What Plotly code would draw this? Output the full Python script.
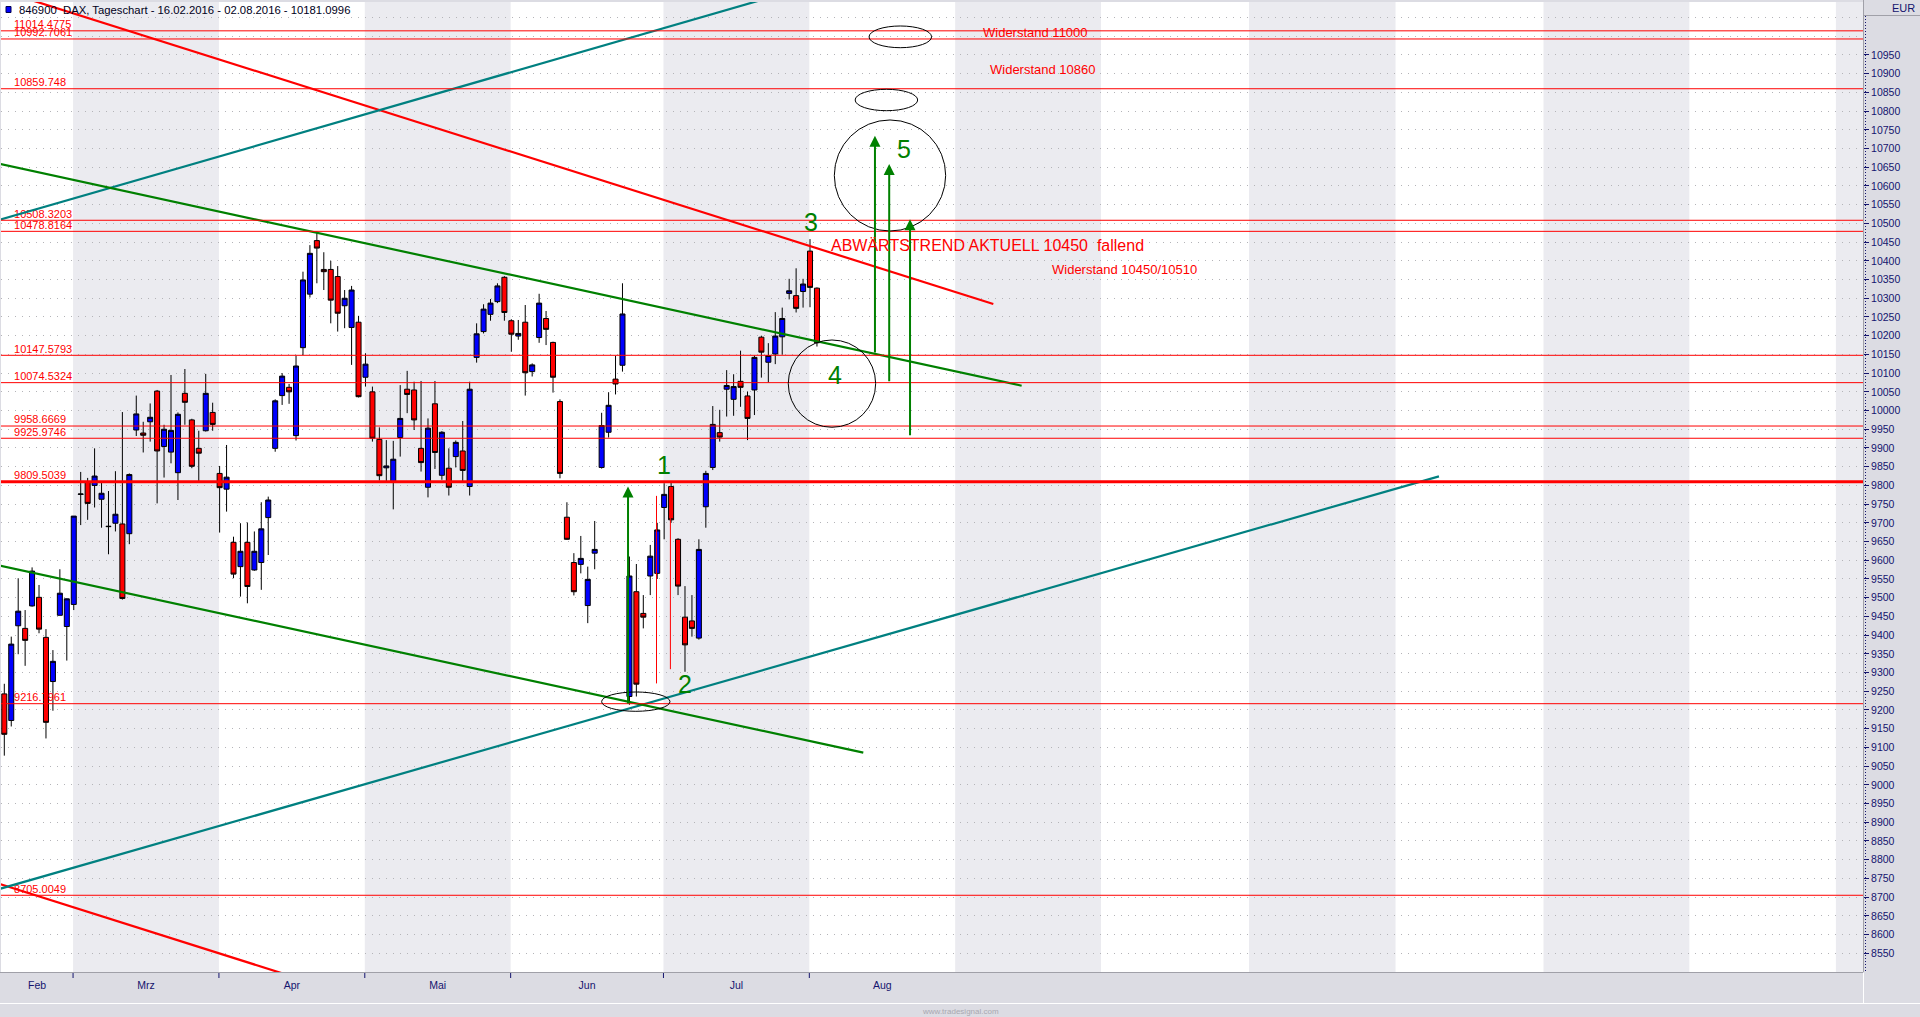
import plotly.graph_objects as go

# ------------------------------------------------------------------ data
opens = [9243, 9172, 9425, 9418, 9478, 9501, 9394, 9276, 9453, 9423,
         9482, 9776, 9808, 9800, 9763, 9691, 9699, 9697, 9671, 9948,
         9940, 9970, 10052, 9904, 9889, 9834, 10046, 9975, 9899, 9946,
         9995, 9832, 9790, 9648, 9583, 9648, 9574, 9594, 9714, 9899,
         10040, 10062, 9933, 10168, 10311, 10454, 10377, 10377, 10358, 10280,
         10222, 10236, 10089, 10050, 9923, 9847, 9810, 9928, 10057, 10055,
         9899, 9795, 10018, 9827, 9846, 9877, 9892, 9797, 10142, 10211,
         10257, 10291, 10356, 10240, 10199, 10236, 10104, 10195, 10246, 10182,
         10024, 9715, 9594, 9589, 9479, 9619, 9848, 9942, 10084, 10121,
         9236, 9516, 9458, 9558, 9565, 9741, 9797, 9656, 9448, 9438,
         9392, 9743, 9848, 9941, 10057, 10030, 10078, 10039, 10055, 10196,
         10129, 10151, 10197, 10313, 10307, 10318, 10426, 10327]
highs = [9270, 9396, 9552, 9467, 9581, 9534, 9416, 9360, 9576, 9498,
         9718, 9836, 9820, 9899, 9810, 9785, 9838, 9996, 9832, 10040,
         9970, 10019, 10055, 9962, 10095, 9995, 10111, 9978, 9946, 10098,
         10021, 9852, 9908, 9663, 9699, 9701, 9677, 9755, 9770, 10030,
         10100, 10071, 10147, 10371, 10442, 10478, 10423, 10400, 10386, 10322,
         10333, 10253, 10153, 10064, 9955, 9921, 9919, 10068, 10106, 10077,
         10079, 9979, 10079, 9945, 9899, 9920, 9972, 10077, 10233, 10284,
         10298, 10340, 10359, 10244, 10242, 10282, 10126, 10312, 10266, 10184,
         10030, 9755, 9619, 9665, 9583, 9705, 9994, 10049, 10146, 10340,
         9610, 9590, 9507, 9641, 9700, 9806, 9810, 9659, 9531, 9507,
         9656, 9839, 10012, 10002, 10108, 10097, 10160, 10051, 10147, 10200,
         10180, 10263, 10275, 10352, 10380, 10352, 10458, 10329]
lows = [9078, 9156, 9349, 9318, 9476, 9405, 9124, 9198, 9453, 9332,
        9467, 9694, 9708, 9741, 9687, 9616, 9677, 9495, 9643, 9932,
        9888, 9917, 9752, 9821, 9859, 9761, 9962, 9846, 9810, 9944,
        9946, 9674, 9730, 9552, 9503, 9485, 9572, 9521, 9614, 9890,
        10015, 10018, 9920, 10148, 10302, 10340, 10322, 10233, 10211, 10220,
        10122, 10035, 10064, 9917, 9813, 9810, 9736, 9877, 9993, 9948,
        9837, 9768, 9844, 9815, 9773, 9848, 9810, 9773, 10128, 10206,
        10240, 10287, 10240, 10157, 10189, 10040, 10091, 10181, 10175, 10048,
        9819, 9655, 9506, 9565, 9432, 9576, 9845, 9928, 10043, 10104,
        9214, 9236, 9418, 9507, 9550, 9656, 9700, 9507, 9302, 9396,
        9388, 9687, 9841, 9917, 9984, 9986, 10010, 9921, 9988, 10088,
        10075, 10124, 10149, 10297, 10262, 10275, 10276, 10171]
closes = [9135, 9376, 9464, 9386, 9571, 9416, 9167, 9330, 9512, 9497,
          9718, 9777, 9752, 9825, 9779, 9690, 9723, 9498, 9829, 9991,
          9934, 9982, 9892, 9950, 9947, 9990, 10022, 9851, 9886, 10046,
          9963, 9794, 9822, 9563, 9624, 9530, 9624, 9684, 9761, 10026,
          10092, 10050, 10119, 10349, 10420, 10434, 10371, 10295, 10260, 10300,
          10322, 10037, 10124, 9926, 9826, 9852, 9870, 9979, 10043, 9975,
          9861, 9953, 9888, 9942, 9795, 9915, 9840, 10057, 10205, 10271,
          10287, 10333, 10262, 10204, 10206, 10101, 10122, 10287, 10217, 10089,
          9832, 9656, 9516, 9605, 9549, 9629, 9960, 10014, 10071, 10258,
          9558, 9269, 9448, 9611, 9681, 9776, 9708, 9531, 9374, 9418,
          9629, 9832, 9963, 9929, 10067, 10064, 10062, 9979, 10142, 10156,
          10147, 10199, 10246, 10320, 10273, 10338, 10329, 10181.0996]
bars = list(range(len(opens)))

month_labels = ["Feb", "Mrz", "Apr", "Mai", "Jun", "Jul", "Aug"]
month_first_bar = [10, 31, 52, 73, 95, 116, 137, 158, 179.3, 200.4, 221.7, 242.7, 263.8]

level_values = [11014.4775, 10992.7061, 10859.748, 10508.3203, 10478.8164,
                10147.5793, 10074.5324, 9958.6669, 9925.9746, 9809.5039,
                9216.7961, 8705.0049]
strong_level = 9809.5039

y_tick_values = list(range(8550, 10951, 50))
y_extra_grid = [11000, 11050]

# drawn trend lines (anchor points: bar index, price)
red_upper_x, red_upper_y = [2.5, 142.39], [11104.7, 10284.7]
red_lower_x, red_lower_y = [-0.6, 40.0], [8734.6, 8496.6]
teal_upper_x, teal_upper_y = [-0.6, 112.0], [10509.8, 11113.1]
teal_lower_x, teal_lower_y = [-0.6, 206.55], [8722.4, 9824.2]
green_upper_x, green_upper_y = [-0.6, 146.47], [10658.6, 10066.4]
green_lower_x, green_lower_y = [-0.6, 123.67], [9585.4, 9086.1]
red_mark_x = [93.9, 95.9]
red_mark_low = [9271, 9309]
red_mark_high = [9772, 9797]

arrow_x = [89.8, 125.35, 127.4, 130.4]
arrow_from = [9213, 10151, 10074, 9930]
arrow_to = [9797, 10734, 10659, 10511]

# ellipses: x0, x1, y0, y1 (bar index / price)
ellipses = [(86.0, 95.84, 9196.5, 9248.1),
            (112.87, 125.45, 9955.3, 10188.5),
            (119.5, 135.53, 10479.7, 10776.3),
            (122.5, 131.5, 10801.1, 10858.3),
            (124.5, 133.5, 10969.4, 11027.4)]

wave_labels = ["1", "2", "3", "4", "5"]
wave_x = [95.0, 98.0, 116.1, 119.6, 129.6]
wave_y = [9854, 9270, 10504, 10096, 10700]

title_text = "846900\u00a0 DAX, Tageschart - 16.02.2016 - 02.08.2016 - 10181.0996"

# ------------------------------------------------------------------ geometry
W, H = 1920, 1017
L, R, T, B = 1, 1863, 2, 972
X_MIN, X_MAX = -0.475, 267.6
Y_MIN, Y_MAX = 8500, 11091.5


def px2x(px):
    return (px - L) / (R - L)


def py2y(py):
    return (B - py) / (B - T)


NAVY = "#14146e"
RED = "#ff0000"
GREEN = "#008000"
TEAL = "#008080"
BAND = "#ebebf0"
PANEL = "#dcdce3"
FONT = "Liberation Sans, Arial, sans-serif"

fig = go.Figure()

# level labels (behind candles)
fig.add_trace(go.Scatter(
    x=[1.4] * len(level_values), y=level_values,
    text=[repr(v) for v in level_values], mode="text",
    textposition="top right",
    textfont=dict(color=RED, size=11, family=FONT),
    hoverinfo="skip", showlegend=False))

fig.add_trace(go.Candlestick(
    x=bars, open=opens, high=highs, low=lows, close=closes,
    increasing=dict(fillcolor="#0000ff", line=dict(color="black", width=1)),
    decreasing=dict(fillcolor="#ff0000", line=dict(color="black", width=1)),
    whiskerwidth=0, showlegend=False))


def add_line(xs, ys, color, width=2.2):
    fig.add_trace(go.Scatter(x=xs, y=ys, mode="lines",
                             line=dict(color=color, width=width),
                             hoverinfo="skip", showlegend=False))


add_line(red_upper_x, red_upper_y, RED)
add_line(red_lower_x, red_lower_y, RED)
add_line(teal_upper_x, teal_upper_y, TEAL)
add_line(teal_lower_x, teal_lower_y, TEAL)
add_line(green_upper_x, green_upper_y, GREEN)
add_line(green_lower_x, green_lower_y, GREEN)
for xv, lo, hi in zip(red_mark_x, red_mark_low, red_mark_high):
    add_line([xv, xv], [lo, hi], RED, 1)

shapes = []
# month shading bands
edges = [s - 0.1 for s in month_first_bar] + [X_MAX + 1]
for k in range(0, len(edges) - 1, 2):
    shapes.append(dict(type="rect", xref="x", yref="paper", x0=edges[k], x1=edges[k + 1],
                       y0=0, y1=1, fillcolor=BAND, line=dict(width=0), layer="below"))
# horizontal levels
for v in level_values:
    shapes.append(dict(type="line", xref="paper", yref="y", x0=0, x1=1, y0=v, y1=v,
                       line=dict(color=RED, width=3 if v == strong_level else 1)))
# ellipses
for (x0, x1, y0, y1) in ellipses:
    shapes.append(dict(type="circle", xref="x", yref="y", x0=x0, x1=x1, y0=y0, y1=y1,
                       line=dict(color="black", width=1)))
# bottom month ticks
for s in month_first_bar[:6]:
    shapes.append(dict(type="line", xref="x", yref="paper", x0=s - 0.1, x1=s - 0.1,
                       y0=py2y(B + 1), y1=py2y(B + 6), line=dict(color=NAVY, width=1)))
# panel decorations
shapes.append(dict(type="line", xref="paper", yref="paper", x0=px2x(0), x1=px2x(R),
                   y0=py2y(B + 0.5), y1=py2y(B + 0.5), line=dict(color="#a0a0a8", width=1)))
shapes.append(dict(type="line", xref="paper", yref="paper", x0=px2x(R + 0.5), x1=px2x(R + 0.5),
                   y0=py2y(0), y1=py2y(B), line=dict(color="#a0a0a8", width=1)))
shapes.append(dict(type="line", xref="paper", yref="paper", x0=px2x(R + 2.5), x1=px2x(R + 2.5),
                   y0=py2y(16), y1=py2y(B), line=dict(color=NAVY, width=1, dash="1px,2px")))
shapes.append(dict(type="line", xref="paper", yref="paper", x0=px2x(R + 1), x1=px2x(W),
                   y0=py2y(15.5), y1=py2y(15.5), line=dict(color="#a0a0a8", width=1)))
shapes.append(dict(type="line", xref="paper", yref="paper", x0=px2x(0), x1=px2x(W),
                   y0=py2y(1003.5), y1=py2y(1003.5), line=dict(color="white", width=1)))
shapes.append(dict(type="line", xref="paper", yref="paper", x0=px2x(R + 0.5), x1=px2x(R + 0.5),
                   y0=py2y(B + 1), y1=py2y(1003.5), line=dict(color="white", width=1)))
# header icon
shapes.append(dict(type="rect", xref="paper", yref="paper", x0=px2x(6), x1=px2x(11),
                   y0=py2y(12.5), y1=py2y(6.5), fillcolor="#0000ff",
                   line=dict(color="#000050", width=1)))

annotations = []
for xv, a, b in zip(arrow_x, arrow_from, arrow_to):
    annotations.append(dict(x=xv, y=b, ax=xv, ay=a, xref="x", yref="y", axref="x", ayref="y",
                            text="", showarrow=True, arrowhead=2, arrowsize=1.1,
                            arrowwidth=2, arrowcolor=GREEN, standoff=0, startstandoff=0))
for t, xv, yv in zip(wave_labels, wave_x, wave_y):
    annotations.append(dict(x=xv, y=yv, xref="x", yref="y", text=t, showarrow=False,
                            font=dict(color=GREEN, size=25, family=FONT),
                            xanchor="center", yanchor="middle"))
annotations += [
    dict(x=118.73, y=10440, xref="x", yref="y", showarrow=False, xanchor="left", yanchor="middle",
         text="ABWÄRTSTREND AKTUELL 10450\u00a0 fallend", font=dict(color=RED, size=16, family=FONT)),
    dict(x=150.55, y=10377, xref="x", yref="y", showarrow=False, xanchor="left", yanchor="middle",
         text="Widerstand 10450/10510", font=dict(color=RED, size=13, family=FONT)),
    dict(x=141.67, y=10910, xref="x", yref="y", showarrow=False, xanchor="left", yanchor="middle",
         text="Widerstand 10860", font=dict(color=RED, size=13, family=FONT)),
    dict(x=140.6, y=11010.6, xref="x", yref="y", showarrow=False, xanchor="left", yanchor="middle",
         text="Widerstand 11000", font=dict(color=RED, size=13, family=FONT)),
    dict(x=px2x(17), y=py2y(10), xref="paper", yref="paper", showarrow=False,
         xanchor="left", yanchor="middle", text=title_text,
         font=dict(color="#000020", size=11.3, family=FONT)),
    dict(x=px2x(1917), y=py2y(8), xref="paper", yref="paper", showarrow=False,
         xanchor="right", yanchor="middle", text="EUR",
         font=dict(color=NAVY, size=11, family=FONT)),
    dict(x=px2x(960), y=py2y(1011), xref="paper", yref="paper", showarrow=False,
         xanchor="center", yanchor="middle", text="www.tradesignal.com",
         font=dict(color="#a8a8b0", size=8, family=FONT)),
]

# month label positions (centres of month spans)
span_edges = [X_MIN] + [s - 0.1 for s in month_first_bar[:len(month_labels)]]
month_centres = [(span_edges[k] + span_edges[k + 1]) / 2 for k in range(len(month_labels))]

fig.update_layout(
    width=W, height=H,
    margin=dict(l=L, r=W - R, t=T, b=H - B, pad=0),
    paper_bgcolor=PANEL, plot_bgcolor="white",
    showlegend=False, boxgap=0.15, boxgroupgap=0.15,
    shapes=shapes, annotations=annotations,
    font=dict(family=FONT),
    xaxis=dict(range=[X_MIN, X_MAX], showgrid=False, zeroline=False, showline=False,
               tickmode="array", tickvals=month_centres, ticktext=month_labels,
               ticks="", ticklabelstandoff=5,
               tickfont=dict(color=NAVY, size=10.5, family=FONT),
               rangeslider=dict(visible=False), fixedrange=True),
    yaxis=dict(range=[Y_MIN, Y_MAX], side="right", zeroline=False, showline=False,
               tickmode="array", tickvals=y_tick_values, ticktext=[str(v) for v in y_tick_values],
               ticks="outside", ticklen=5, tickcolor=NAVY, tickwidth=1,
               tickfont=dict(color=NAVY, size=10.5, family=FONT),
               showgrid=True, gridcolor="#b4b4b8", gridwidth=1, griddash="1px,6px",
               minor=dict(tickmode="array", tickvals=y_extra_grid, showgrid=True,
                          gridcolor="#b4b4b8", gridwidth=1, griddash="1px,6px", ticks=""),
               fixedrange=True),
)

fig.write_html(
    "out.html",
    config={"displayModeBar": False},
    post_script="document.body.style.margin='0px';document.body.style.overflow='hidden';",
)
